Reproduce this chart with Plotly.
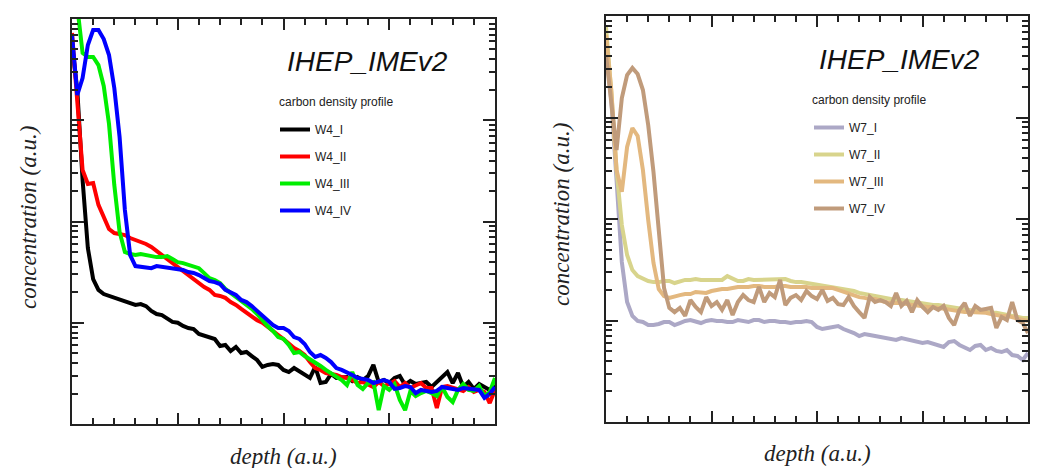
import plotly.graph_objects as go

# depth grid (a.u.), 0.05 step from 0 to 4
DEPTH = [round(0.05 * i, 2) for i in range(81)]

# ---- left panel: W4 carbon density profiles ----
W4_I = [5540, 1990, 257, 54.7, 27.0, 21.1, 19.2, 18.4, 17.6, 16.8,
        16.0, 15.3, 15.0, 15.3, 14.6, 13.1, 12.2, 11.9, 11.1, 10.2,
        10.0, 9.29, 8.87, 8.67, 7.74, 7.40, 7.07, 6.91, 5.89, 6.03,
        5.26, 5.76, 5.02, 5.14, 4.69, 4.29, 3.66, 3.83, 3.91, 3.83,
        3.42, 3.26, 3.57, 3.34, 3.05, 2.85, 3.66, 2.54, 2.60, 3.12,
        2.85, 2.85, 2.91, 2.66, 2.91, 2.72, 2.98, 3.83, 2.60, 2.72,
        2.54, 2.85, 2.98, 2.43, 2.66, 2.48, 2.54, 2.60, 2.32, 2.60,
        2.91, 3.26, 2.54, 3.19, 2.32, 2.60, 2.22, 2.48, 2.32, 2.17,
        2.43]
W4_II = [7270, 1585, 323, 235, 240, 146, 108, 84.3, 76.9, 75.2,
         73.5, 68.7, 65.7, 62.8, 60.0, 56.0, 51.1, 45.6, 41.7, 38.8,
         34.6, 31.7, 29.0, 27.0, 24.6, 22.5, 21.1, 18.8, 18.4, 17.6,
         16.0, 15.0, 13.7, 12.5, 11.7, 10.6, 10.0, 9.08, 8.10, 7.57,
         6.91, 6.17, 5.63, 5.26, 4.80, 4.09, 3.57, 3.42, 3.19, 3.12,
         3.05, 2.91, 2.85, 2.72, 2.54, 2.60, 2.43, 2.32, 2.60, 2.37,
         2.48, 2.66, 2.32, 2.54, 2.27, 2.43, 2.54, 2.27, 2.27, 1.44,
         2.32, 2.37, 2.27, 2.17, 2.12, 2.32, 2.07, 2.17, 2.07, 1.61,
         2.17]
W4_III = [38000, 13700, 4620, 4220, 4220, 3510, 2180, 918, 229, 78.8,
          50.0, 47.7, 46.6, 47.7, 46.6, 45.6, 44.5, 44.5, 45.6, 42.6,
          39.7, 38.8, 37.1, 36.2, 34.6, 30.9, 27.6, 26.4, 24.6, 21.6,
          19.7, 18.0, 16.8, 15.0, 13.7, 12.2, 10.6, 9.29, 8.29, 7.23,
          6.91, 6.03, 5.02, 5.14, 4.69, 4.38, 4.09, 3.74, 3.42, 3.19,
          2.98, 2.72, 2.43, 3.26, 2.43, 2.22, 2.54, 2.60, 1.37, 2.37,
          2.17, 2.48, 1.73, 1.37, 2.12, 1.89, 2.02, 2.12, 2.02, 1.89,
          2.32, 1.85, 1.65, 2.17, 2.48, 2.17, 2.12, 2.37, 1.89, 2.07,
          2.85]
W4_IV = [6950, 1775, 2610, 5540, 7790, 7790, 6340, 4410, 2080, 683,
         130, 46.6, 36.3, 35.5, 34.6, 34.6, 36.3, 35.5, 35.5, 34.6,
         33.9, 33.2, 31.7, 31.0, 29.6, 27.6, 25.8, 25.2, 24.1, 21.1,
         19.7, 18.8, 16.8, 16.0, 14.6, 13.1, 11.9, 10.6, 9.50, 8.87,
         8.87, 8.29, 7.23, 6.91, 6.17, 5.14, 4.59, 4.80, 4.49, 4.09,
         3.57, 3.42, 3.26, 3.05, 2.85, 2.78, 2.72, 2.54, 2.60, 2.72,
         2.60, 2.22, 2.27, 2.37, 2.32, 2.02, 2.17, 2.12, 2.07, 2.12,
         2.32, 2.27, 2.22, 2.17, 2.27, 2.22, 2.17, 2.17, 1.81, 1.98,
         2.32]

# ---- right panel: W7 carbon density profiles ----
W7_I = [4620, 1487, 242, 37.7, 15.2, 11.1, 9.89, 9.66, 9.03, 9.03,
        9.24, 9.66, 9.66, 9.03, 9.44, 9.89, 10.1, 9.66, 9.44, 9.89,
        10.1, 9.89, 9.89, 9.66, 9.66, 10.1, 9.89, 9.66, 10.1, 10.1,
        9.66, 9.89, 9.89, 9.66, 9.66, 9.44, 9.66, 9.66, 9.89, 9.66,
        8.63, 8.24, 8.44, 8.63, 8.83, 8.24, 7.88, 7.53, 7.03, 7.36,
        7.19, 7.03, 6.87, 6.72, 6.57, 6.43, 6.72, 6.57, 6.28, 6.14,
        6.00, 6.14, 5.87, 5.61, 5.48, 6.14, 6.28, 5.74, 5.36, 5.12,
        5.61, 5.74, 5.12, 5.36, 5.01, 4.89, 5.12, 4.57, 4.47, 4.08,
        4.78]
W7_II = [7800, 1783, 304, 87.3, 44.2, 31.4, 27.4, 25.6, 24.5, 23.9,
         23.9, 24.5, 24.5, 23.4, 24.5, 25.1, 25.1, 25.6, 25.1, 25.1,
         25.6, 25.6, 25.1, 27.4, 25.6, 24.5, 24.5, 25.6, 25.1, 25.1,
         25.6, 25.6, 25.1, 25.1, 25.6, 24.5, 23.9, 23.9, 23.4, 22.9,
         22.9, 22.4, 21.9, 21.4, 20.9, 20.4, 20.0, 19.5, 18.7, 18.2,
         17.8, 17.4, 17.0, 16.7, 16.3, 15.9, 15.9, 15.6, 15.2, 14.9,
         14.5, 14.2, 14.2, 14.2, 13.9, 13.6, 13.3, 13.0, 12.7, 12.7,
         12.4, 12.4, 12.1, 11.9, 11.9, 11.6, 11.3, 11.1, 10.8, 10.6,
         10.6]
W7_III = [6500, 1866, 304, 185, 512, 788, 657, 304, 97.8, 36.9,
          20.4, 17.4, 16.7, 17.4, 17.8, 18.2, 18.2, 19.1, 19.1, 18.7,
          19.5, 20.0, 20.4, 20.4, 20.9, 21.4, 21.4, 21.4, 21.9, 21.9,
          21.4, 21.4, 21.4, 21.9, 21.9, 21.4, 21.4, 21.4, 21.4, 20.9,
          20.9, 20.9, 20.9, 20.9, 20.0, 19.1, 18.2, 17.8, 17.0, 16.7,
          16.3, 16.3, 15.6, 15.2, 14.9, 14.9, 14.9, 14.5, 14.2, 13.9,
          13.6, 13.6, 13.6, 13.3, 13.3, 13.0, 12.7, 12.4, 12.1, 12.1,
          12.1, 11.9, 11.9, 11.6, 11.3, 11.1, 11.1, 10.8, 10.6, 10.1,
          9.89]
W7_IV = [4130, 1487, 479, 1556, 2620, 3075, 2680, 1866, 844, 290,
         69.5, 20.9, 13.3, 12.1, 13.3, 11.1, 15.9, 13.6, 12.1, 17.0,
         13.9, 15.2, 12.7, 15.9, 11.3, 15.2, 17.8, 15.9, 15.2, 21.4,
         15.2, 18.7, 17.0, 25.1, 14.2, 16.7, 17.8, 15.9, 19.5, 17.4,
         16.3, 20.0, 15.6, 16.7, 14.5, 14.2, 17.0, 13.9, 12.1, 10.6,
         17.0, 15.2, 15.9, 15.2, 13.9, 18.7, 13.9, 15.6, 12.1, 15.9,
         13.6, 12.1, 13.6, 12.7, 13.9, 10.6, 9.03, 12.7, 14.9, 11.1,
         13.9, 12.7, 13.0, 13.3, 8.44, 10.8, 10.1, 15.2, 10.1, 9.44,
         7.53]

LEFT_NAMES = ["W4_I", "W4_II", "W4_III", "W4_IV"]
RIGHT_NAMES = ["W7_I", "W7_II", "W7_III", "W7_IV"]
LEFT_COLORS = ["#000000", "#ff0000", "#00ee00", "#0000ff"]
RIGHT_COLORS = ["#aca8c6", "#d8d48c", "#e3b87f", "#c09b7b"]
PANEL_TITLE = "IHEP_IMEv2"
LEGEND_TITLE = "carbon density profile"
X_TITLE = "depth (a.u.)"
Y_TITLE = "concentration (a.u.)"

for s in (W4_I, W4_II, W4_III, W4_IV, W7_I, W7_II, W7_III, W7_IV):
    assert len(s) == len(DEPTH), len(s)

fig = go.Figure()
for k, (name, ys, col) in enumerate(zip(LEFT_NAMES, [W4_I, W4_II, W4_III, W4_IV], LEFT_COLORS)):
    fig.add_trace(go.Scatter(x=DEPTH, y=ys, name=name, mode="lines",
                             line=dict(color=col, width=4),
                             xaxis="x", yaxis="y", legend="legend",
                             legendgroup="L%d" % k))
for k, (name, ys, col) in enumerate(zip(RIGHT_NAMES, [W7_I, W7_II, W7_III, W7_IV], RIGHT_COLORS)):
    fig.add_trace(go.Scatter(x=DEPTH, y=ys, name=name, mode="lines",
                             line=dict(color=col, width=4),
                             xaxis="x2", yaxis="y2", legend="legend2",
                             legendgroup="R%d" % k))

W, H = 1043, 468
MINOR_Y = [m * 10 ** k for k in range(4) for m in range(2, 10)]
MINOR_X = [i / 5 for i in range(1, 20) if i % 5]
TICK_COLOR = "#222"

LINE = dict(showline=True, linecolor="#222", linewidth=2, mirror="allticks",
            showgrid=False, zeroline=False, showticklabels=False)


def xax(domain, anchor):
    return dict(domain=domain, anchor=anchor, range=[0, 4], tick0=0, dtick=1,
                ticks="inside", ticklen=11, tickwidth=2, tickcolor=TICK_COLOR,
                minor=dict(tickmode="array", tickvals=MINOR_X, ticks="inside",
                           ticklen=6, tickwidth=2, tickcolor=TICK_COLOR, showgrid=False),
                **LINE)


def yax(domain, anchor):
    return dict(domain=domain, anchor=anchor, type="log", range=[0, 4], dtick=1,
                ticks="inside", ticklen=12, tickwidth=2, tickcolor=TICK_COLOR,
                minor=dict(tickmode="array", tickvals=MINOR_Y, ticks="inside",
                           ticklen=6, tickwidth=2, tickcolor=TICK_COLOR, showgrid=False),
                **LINE)


legend_common = dict(xanchor="left", yanchor="top", bgcolor="rgba(0,0,0,0)",
                     font=dict(size=12, family="Liberation Sans", color="#222"),
                     tracegroupgap=8)

fig.update_layout(
    width=W, height=H, margin=dict(l=0, r=0, t=0, b=0),
    paper_bgcolor="white", plot_bgcolor="white",
    xaxis=xax([72 / W, 495 / W], "y"),
    yaxis=yax([1 - 424 / H, 1 - 19 / H], "x"),
    xaxis2=xax([606 / W, 1028 / W], "y2"),
    yaxis2=yax([1 - 422 / H, 1 - 16 / H], "x2"),
    font=dict(family="Liberation Sans", color="#222"),
    legend=dict(x=275 / W, y=1 - 115 / H, **legend_common),
    legend2=dict(x=809 / W, y=1 - 113 / H, **legend_common),
    showlegend=True,
)

title_font = dict(family="Liberation Sans", size=28, style="italic", color="#111")
axis_font = dict(family="Liberation Serif", size=23, style="italic", color="#222")
small_font = dict(family="Liberation Sans", size=12, color="#222")
annots = [
    dict(text=PANEL_TITLE, x=367.5 / W, y=1 - 62 / H, font=title_font, xanchor="center"),
    dict(text=PANEL_TITLE, x=899 / W, y=1 - 60 / H, font=title_font, xanchor="center"),
    dict(text=LEGEND_TITLE, x=277 / W, y=1 - 102 / H, font=small_font, xanchor="left"),
    dict(text=LEGEND_TITLE, x=810 / W, y=1 - 100 / H, font=small_font, xanchor="left"),
    dict(text=X_TITLE, x=283.5 / W, y=1 - 456 / H, font=axis_font, xanchor="center"),
    dict(text=X_TITLE, x=817 / W, y=1 - 453 / H, font=axis_font, xanchor="center"),
    dict(text=Y_TITLE, x=28 / W, y=1 - 218 / H, font=axis_font, textangle=-90, xanchor="center"),
    dict(text=Y_TITLE, x=562 / W, y=1 - 215 / H, font=axis_font, textangle=-90, xanchor="center"),
]
for a in annots:
    fig.add_annotation(xref="paper", yref="paper", yanchor="middle",
                       showarrow=False, **a)

fig.write_html("out.html")
